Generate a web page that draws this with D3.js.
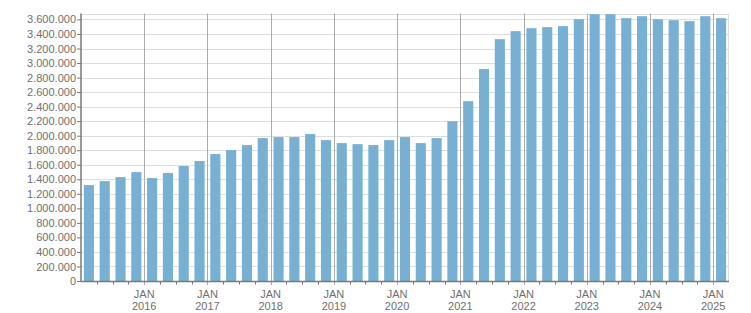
<!DOCTYPE html>
<html>
<head>
<meta charset="utf-8">
<script src="https://cdn.jsdelivr.net/npm/d3@7"></script>
<style>
  body { margin: 0; background: #fff; }
  svg { display: block; font-family: "Liberation Sans", Arial, sans-serif; }
</style>
</head>
<body>
<div id="chart"></div>
<script>
// quarterly values, Q1 2015 .. Q1 2025
const quarters = [
  "2015 Q1", "2015 Q2", "2015 Q3", "2015 Q4",
  "2016 Q1", "2016 Q2", "2016 Q3", "2016 Q4",
  "2017 Q1", "2017 Q2", "2017 Q3", "2017 Q4",
  "2018 Q1", "2018 Q2", "2018 Q3", "2018 Q4",
  "2019 Q1", "2019 Q2", "2019 Q3", "2019 Q4",
  "2020 Q1", "2020 Q2", "2020 Q3", "2020 Q4",
  "2021 Q1", "2021 Q2", "2021 Q3", "2021 Q4",
  "2022 Q1", "2022 Q2", "2022 Q3", "2022 Q4",
  "2023 Q1", "2023 Q2", "2023 Q3", "2023 Q4",
  "2024 Q1", "2024 Q2", "2024 Q3", "2024 Q4",
  "2025 Q1"
];

const values = [
  1320000, 1375000, 1430000, 1499000,
  1417000, 1486000, 1582000, 1651000,
  1747000, 1802000, 1871000, 1967000,
  1981000, 1981000, 2022000, 1939000,
  1898000, 1884000, 1871000, 1939000,
  1981000, 1898000, 1967000, 2200000,
  2476000, 2917000, 3329000, 3439000,
  3480000, 3494000, 3508000, 3604000,
  3673000, 3673000, 3618000, 3645000,
  3604000, 3590000, 3577000, 3645000,
  3618000
];

const years = ["2016", "2017", "2018", "2019", "2020", "2021", "2022", "2023", "2024", "2025"];
const yTicks = [0, 200000, 400000, 600000, 800000, 1000000, 1200000, 1400000, 1600000, 1800000,
  2000000, 2200000, 2400000, 2600000, 2800000, 3000000, 3200000, 3400000, 3600000];

const width = 751;
const height = 313;
const plotLeft = 81, plotRight = 729, plotTop = 13.5, plotBottom = 281;
const barColor = "#77b0d3";
const textColor = "#6f6f6f";

const fmt = d3.formatLocale({ decimal: ",", thousands: ".", grouping: [3], currency: ["", ""] }).format(",d");

const svg = d3.select("#chart").append("svg")
  .attr("width", width)
  .attr("height", height);

// quarter boundaries as a linear index scale
const qx = d3.scaleLinear().domain([0, quarters.length]).range([plotLeft, plotRight]);
const x = d3.scaleBand().domain(quarters).range([plotLeft, plotRight])
  .paddingInner(0.36).paddingOuter(0.18);
const y = d3.scaleLinear().domain([0, 3682000]).range([plotBottom, plotTop]);

const crisp = v => Math.round(v) + 0.5;

// horizontal grid
svg.append("g")
  .selectAll("line")
  .data(yTicks)
  .join("line")
  .attr("x1", plotLeft).attr("x2", plotRight)
  .attr("y1", d => crisp(y(d))).attr("y2", d => crisp(y(d)))
  .attr("stroke", "#dedede");

// top and right frame
svg.append("line")
  .attr("x1", plotLeft).attr("x2", plotRight)
  .attr("y1", crisp(plotTop)).attr("y2", crisp(plotTop))
  .attr("stroke", "#dedede");
svg.append("line")
  .attr("x1", crisp(plotRight - 1)).attr("x2", crisp(plotRight - 1))
  .attr("y1", plotTop).attr("y2", plotBottom)
  .attr("stroke", "#dedede");

// year lines (January)
const yearIdx = years.map(yr => quarters.indexOf(yr + " Q1"));
svg.append("g")
  .selectAll("line")
  .data(yearIdx)
  .join("line")
  .attr("x1", d => crisp(qx(d))).attr("x2", d => crisp(qx(d)))
  .attr("y1", plotTop).attr("y2", plotBottom + 4)
  .attr("stroke", "#ababab");

// bars
svg.append("g")
  .selectAll("rect")
  .data(values)
  .join("rect")
  .attr("x", (d, i) => x(quarters[i]))
  .attr("y", d => y(d))
  .attr("width", x.bandwidth())
  .attr("height", d => plotBottom - y(d))
  .attr("fill", barColor);

// minor quarter ticks on x axis
const minorIdx = d3.range(1, quarters.length).filter(i => !quarters[i].endsWith("Q1"));
svg.append("g")
  .selectAll("line")
  .data(minorIdx)
  .join("line")
  .attr("x1", d => crisp(qx(d))).attr("x2", d => crisp(qx(d)))
  .attr("y1", plotBottom).attr("y2", plotBottom + 3.5)
  .attr("stroke", "#777");

// x axis line
svg.append("line")
  .attr("x1", plotLeft).attr("x2", plotRight)
  .attr("y1", plotBottom + 0.5).attr("y2", plotBottom + 0.5)
  .attr("stroke", "#7a7a7a")
  .attr("stroke-width", 1.5);

// x labels
const xl = svg.append("g")
  .selectAll("g")
  .data(years)
  .join("g")
  .attr("transform", (d, i) => `translate(${qx(yearIdx[i])},0)`)
  .attr("fill", textColor)
  .attr("font-size", "11px")
  .attr("text-anchor", "middle");
xl.append("text").attr("y", 298).text("JAN");
xl.append("text").attr("y", 310).text(d => d);

// y axis
const yAxis = svg.append("g")
  .attr("transform", `translate(${plotLeft},0)`)
  .call(d3.axisLeft(y).tickValues(yTicks).tickFormat(fmt).tickSize(4).tickPadding(1));
yAxis.select(".domain").remove();
yAxis.selectAll(".tick line").attr("stroke", "#777");
yAxis.selectAll(".tick text")
  .attr("fill", textColor)
  .attr("font-size", "11px")
  .attr("font-family", "Liberation Sans, Arial, sans-serif");
yAxis.append("line")
  .attr("x1", 0).attr("x2", 0)
  .attr("y1", plotTop).attr("y2", plotBottom + 1)
  .attr("stroke", "#7a7a7a")
  .attr("stroke-width", 1.5);
</script>
</body>
</html>
